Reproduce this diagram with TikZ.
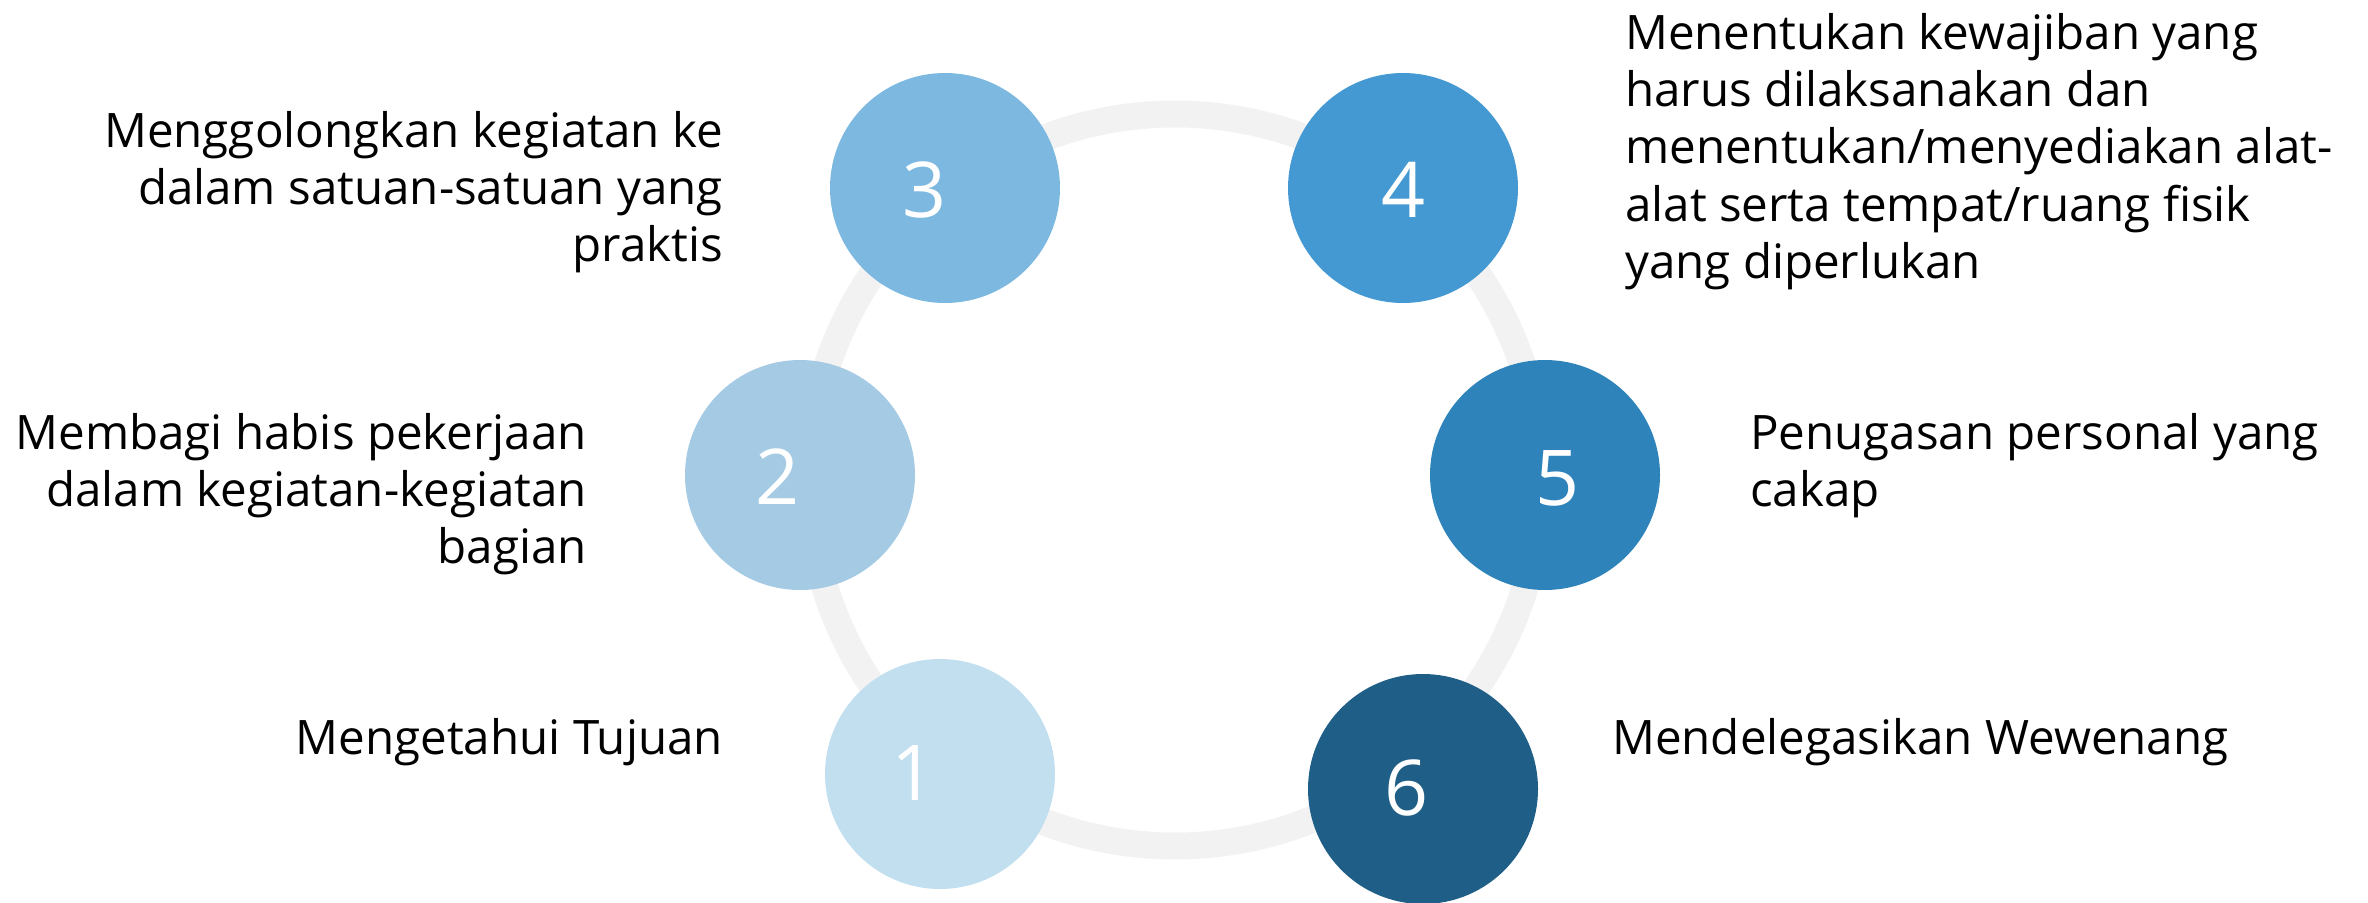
\documentclass[tikz,border=0pt]{standalone}
\usepackage{fontspec}
\setmainfont{Open Sans}
\definecolor{ringc}{HTML}{F2F2F2}
\definecolor{c1}{HTML}{C2DFEF}
\definecolor{c2}{HTML}{A4CAE4}
\definecolor{c3}{HTML}{7DB8E1}
\definecolor{c4}{HTML}{4499D3}
\definecolor{c5}{HTML}{2E83BA}
\definecolor{c6}{HTML}{1F5F87}
\tikzset{
  dot/.style={circle, minimum size=230pt, inner sep=0pt, draw=none, fill=#1},
  num/.style={inner sep=0pt, text=white, font=\fontsize{77}{77}\selectfont},
  lbl/.style={inner sep=0pt, font=\fontsize{47.5}{57.3}\selectfont},
}
\newcommand{\fs}{\rule{0pt}{44pt}}
\begin{document}
\begin{tikzpicture}[x=1pt,y=-1pt]
\useasboundingbox (0,0) rectangle (2368,902);
\coordinate (ctr) at (1175,480);
\draw[ringc, line width=27pt] (ctr) circle[radius=366pt];
\node[dot=c1] (k1) at (940,774) {};
\node[dot=c2] (k2) at (800,475) {};
\node[dot=c3] (k3) at (945,188) {};
\node[dot=c4] (k4) at (1403,188) {};
\node[dot=c5] (k5) at (1545,475) {};
\node[dot=c6] (k6) at (1423,789) {};
\node[num] (n1) at (914,773) {1};
\node[num] (n2) at (778,477) {2};
\node[num] (n3) at (925,190) {3};
\node[num] (n4) at (1403,190) {4};
\node[num] (n5) at (1557,478) {5};
\node[num] (n6) at (1406,788) {6};
\node[lbl, anchor=north east, align=right] (t3) at (723,103) {\fs Menggolongkan kegiatan ke\\dalam satuan-satuan yang\\praktis};
\node[lbl, anchor=north east, align=right] (t2) at (587,405) {\fs Membagi habis pekerjaan\\dalam kegiatan-kegiatan\\bagian};
\node[lbl, anchor=north east, align=right] (t1) at (723,710) {\fs Mengetahui Tujuan};
\node[lbl, anchor=north west, align=left] (t4) at (1625,5) {\fs Menentukan kewajiban yang\\harus dilaksanakan dan\\menentukan/menyediakan alat-\\alat serta tempat/ruang fisik\\yang diperlukan};
\node[lbl, anchor=north west, align=left] (t5) at (1750,405) {\fs Penugasan personal yang\\cakap};
\node[lbl, anchor=north west, align=left] (t6) at (1612,710) {\fs Mendelegasikan Wewenang};
\end{tikzpicture}
\end{document}
